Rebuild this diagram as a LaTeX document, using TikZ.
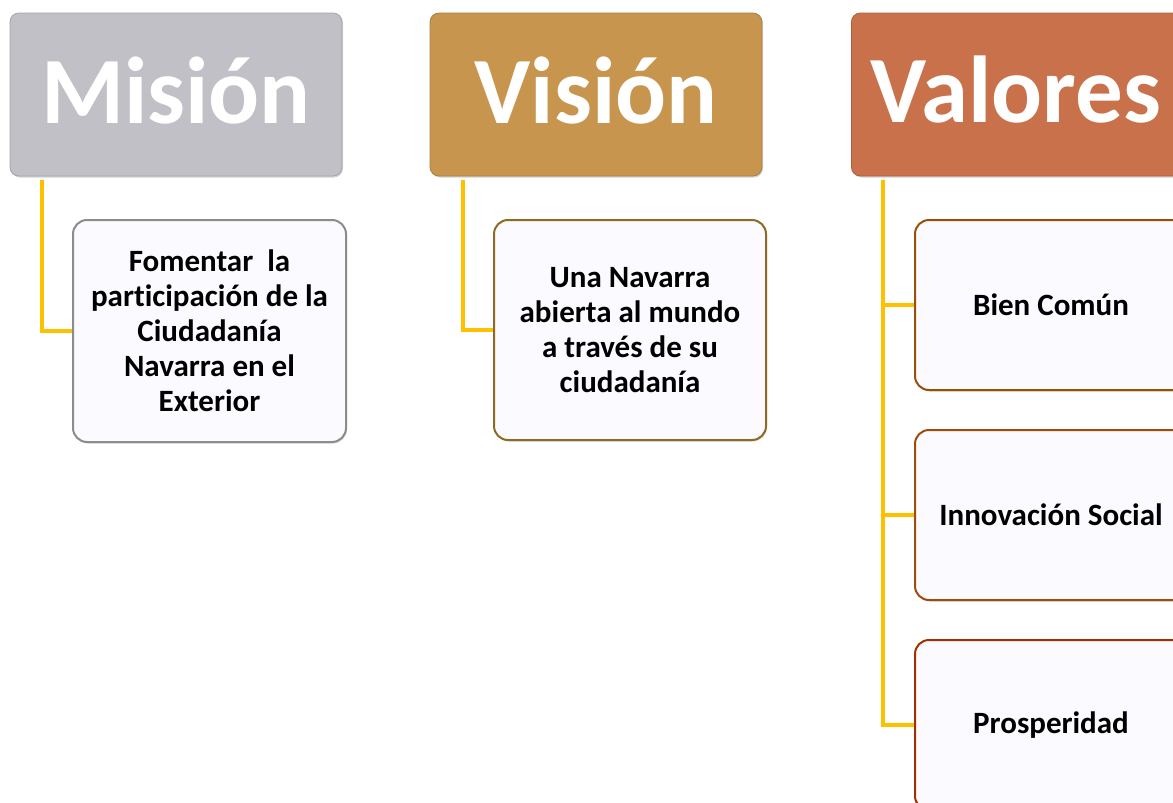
\documentclass[tikz,border=0pt]{standalone}
\usepackage{fontspec}
\setmainfont[Ligatures=NoCommon]{Carlito}
\usetikzlibrary{shadows}
\definecolor{conn}{HTML}{FFC000}
\definecolor{misfill}{HTML}{C0C0C6}
\definecolor{visfill}{HTML}{C8954F}
\definecolor{valfill}{HTML}{C8714B}
\definecolor{misline}{HTML}{8C8C8C}
\definecolor{visline}{HTML}{8E6A22}
\definecolor{bienline}{HTML}{985008}
\definecolor{innoline}{HTML}{A04A0C}
\definecolor{prosline}{HTML}{A03000}
\definecolor{boxfill}{HTML}{FBFBFF}
\tikzset{
  header/.style={rounded corners=9pt, draw=#1!85!black, line width=0.8pt, fill=#1,
    minimum width=332pt, minimum height=163pt, inner sep=0pt,
    drop shadow={shadow xshift=1pt, shadow yshift=-1.5pt, opacity=0.35}},
  headtext/.style={font=\fontsize{95}{100}\selectfont\bfseries, text=white, inner sep=0pt},
  child/.style={rounded corners=14pt, draw=#1, line width=2pt, fill=boxfill,
    inner sep=0pt, align=center,
    font=\fontsize{31}{35}\selectfont\bfseries, text=black,
    drop shadow={shadow xshift=1pt, shadow yshift=-1.5pt, opacity=0.3}},
  childtext/.style={font=\fontsize{31}{35}\selectfont\bfseries, text=black},
  link/.style={draw=conn, line width=3.4pt}
}
\begin{document}
\begin{tikzpicture}[x=1pt,y=-1pt]
\useasboundingbox (0,0) rectangle (1173,803);
\clip (0,0) rectangle (1173,803);
% headers
\node[header=misfill] (mis) at (176,94.5) {};
\node[header=visfill] (vis) at (596,94.5) {};
\node[header=valfill, anchor=west] (val) at (851,94.5) {};
\node[headtext, anchor=base] (mist) at (176,123) {Misión};
\node[headtext, anchor=base] (vist) at (596,123) {Visión};
\node[headtext, anchor=base west] (valt) at (870,122) {Valores};
% children
\node[child=misline, minimum width=273pt, minimum height=222pt] (mc) at (209.5,331) {Fomentar\ \ la\\participación de la\\Ciudadanía\\Navarra en el\\Exterior};
\node[child=visline, minimum width=272pt, minimum height=220pt] (vc) at (630,330) {Una Navarra\\abierta al mundo\\a través de su\\ciudadanía};
\node[child=bienline, minimum width=274pt, minimum height=170pt, anchor=west] (v1) at (914,305) {};
\node[child=innoline, minimum width=274pt, minimum height=170pt, anchor=west] (v2) at (914,515) {};
\node[child=prosline, minimum width=274pt, minimum height=170pt, anchor=west] (v3) at (914,725) {};
\node[childtext] (t1) at (1051,305) {Bien Común};
\node[childtext] (t2) at (1051,515) {Innovación Social};
\node[childtext] (t3) at (1051,725) {Prosperidad};
% connectors
\coordinate (ms) at (42,180);
\coordinate (vs) at (463,180);
\coordinate (as) at (883,180);
\draw[link] (ms) |- (mc.west);
\draw[link] (vs) |- (vc.west);
\draw[link] (as) |- (v3.west);
\draw[link] (as |- v1.west) -- (v1.west);
\draw[link] (as |- v2.west) -- (v2.west);
\end{tikzpicture}
\end{document}
